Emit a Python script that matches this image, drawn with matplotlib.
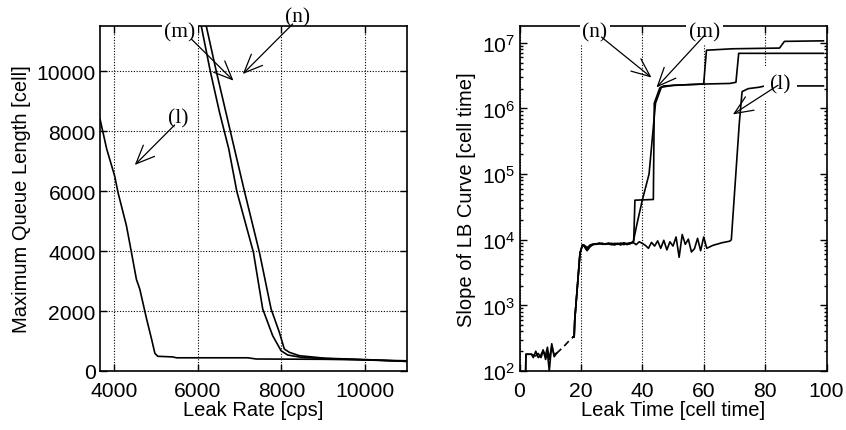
import matplotlib
matplotlib.use("Agg")
import matplotlib.pyplot as plt
import numpy as np

plt.rcParams['font.family'] = ['Liberation Sans', 'DejaVu Sans']
plt.rcParams['mathtext.fontset'] = 'custom'
plt.rcParams['mathtext.rm'] = 'Liberation Sans'

# ---------------- Left panel data: Maximum queue length vs leak rate ----------------
rate_l = [3670, 3830, 4020, 4100, 4300, 4420, 4540, 4620, 4780, 4900, 4980, 5050,
          5400, 5500, 7200, 7400, 9000, 10000, 11000]
qlen_l = [8400, 7400, 6500, 5950, 4850, 3960, 3050, 2730, 1750, 1070, 590, 490,
          470, 440, 440, 400, 390, 370, 340]

rate_m = [6088, 6302, 6524, 6745, 6936, 7333, 7555, 7793, 7993, 8150, 8500, 9000, 10000, 11000]
qlen_m = [11500, 10000, 8620, 7400, 5990, 3957, 2067, 1177, 677, 533, 450, 420, 370, 320]

rate_n = [6207, 6445, 6881, 7119, 7476, 7755, 7952, 8071, 8190, 8430, 9064, 9857, 10970]
qlen_n = [11500, 10000, 7400, 5990, 3957, 2067, 1290, 733, 623, 510, 423, 390, 323]

left_xticks = [4000, 6000, 8000, 10000]
left_yticks = [0, 2000, 4000, 6000, 8000, 10000]

# ---------------- Right panel data: slope of LB curve vs leak time ----------------
t_early = [2.0, 2.1, 3.9, 4.5, 5.3, 6.1, 7.0, 7.7, 8.5, 9.1, 9.7, 10.5, 11.3, 12.0]
slope_early_l = [100, 180, 180, 160, 200, 160, 175, 210, 150, 190, 100, 260, 165, 185]
slope_early_nm = [100, 180, 180, 175, 170, 185, 160, 200, 175, 230, 150, 240, 175, 185]

t_gap = [12.0, 14.2, 15.9, 17.5]
slope_gap = [185, 230, 280, 330]

t_rise = [17.5, 17.8, 18.0, 19.7, 20.5]
slope_rise = [330, 330, 600, 6200, 8300]

t_plateau = list(range(21, 37))
plateau_l = [8200, 7000, 8300, 8600, 8500, 8900, 8700, 8600, 8900, 8500, 8300, 8800, 8600, 9000, 8400, 8700]
plateau_n = [8000, 6800, 7800, 8500, 8700, 8600, 8800, 8500, 8700, 8800, 8600, 8500, 8900, 8400, 8800, 8700]
plateau_m = [8300, 7600, 8200, 8400, 8600, 8800, 8500, 8700, 8600, 8400, 8800, 8700, 8300, 8900, 8600, 9000]

t_l_tail = list(range(37, 62)) + [63, 66, 68.5, 69.0, 71.6, 72.5, 73.5, 74.5, 78, 80, 99]
slope_l_tail = [9100, 8400, 9300, 8800, 8200, 7400, 9100, 8000, 9600, 7400, 9800, 7000, 9300,
                8000, 11000, 5400, 12000, 8500, 10200, 6500, 7300, 10500, 6800, 11000, 7400,
                8200, 9000, 9500, 1.0e4, 6.0e5, 1.8e6, 1.9e6, 2.0e6, 2.1e6, 2.2e6, 2.2e6]

t_n_tail = [37.2, 37.6, 43.6, 43.9, 45.7, 47.0, 55, 59.5, 60.0, 60.9, 69.5, 84.7, 86.3, 99]
slope_n_tail = [9500, 4.0e4, 4.1e4, 1.2e6, 2.05e6, 2.2e6, 2.3e6, 2.35e6, 2.4e6, 7.7e6,
                8.1e6, 8.3e6, 1.05e7, 1.07e7]

t_m_tail = [37.0, 38.1, 40.0, 42.2, 44.3, 46.2, 50, 60, 68.5, 70.5, 71.4, 99]
slope_m_tail = [9000, 1.6e4, 4.0e4, 1.0e5, 1.2e6, 2.1e6, 2.25e6, 2.35e6, 2.4e6, 2.5e6, 6.9e6, 6.9e6]

right_xticks = [0, 20, 40, 60, 80, 100]

# ---------------- Figure ----------------
fig = plt.figure(figsize=(8.46, 4.31), dpi=100)
axL = fig.add_axes([100/846, 1-372/431, 307/846, 345/431])
axR = fig.add_axes([519.5/846, 1-372/431, 307/846, 345/431])

lw = 1.2
tick_fs = 15.2
label_fs = 14.5
ann_fs = 15.5
serif = ['Liberation Serif', 'DejaVu Serif']
bbox = dict(boxstyle='square,pad=0.12', fc='white', ec='none')
arrowprops = dict(arrowstyle='->,head_length=0.7,head_width=0.3', color='black', lw=0.9,
                  shrinkA=0, shrinkB=0, mutation_scale=19)

def style_axes(ax):
    for s in ax.spines.values():
        s.set_linewidth(1.2)
    ax.tick_params(which='both', direction='in', top=True, right=True,
                   labelsize=tick_fs, width=1.0)
    ax.tick_params(which='major', length=5)
    ax.tick_params(which='minor', length=2.5)

# Left
axL.plot(rate_l, qlen_l, color='black', lw=lw)
axL.plot(rate_m, qlen_m, color='black', lw=lw)
axL.plot(rate_n, qlen_n, color='black', lw=lw)
axL.set_xlim(3670, 11000)
axL.set_ylim(0, 11500)
axL.set_xticks(left_xticks)
axL.set_yticks(left_yticks)
axL.grid(True, linestyle=(0, (1, 1.5)), color='black', lw=0.8)
style_axes(axL)
axL.tick_params(axis='x', pad=7)
axL.tick_params(axis='y', pad=3)
axL.set_xlabel('Leak Rate [cps]', fontsize=label_fs, labelpad=0)
axL.set_ylabel('Maximum Queue Length [cell]', fontsize=label_fs, labelpad=4)

axL.text(5583, 11317, '(m)', family=serif, fontsize=ann_fs, ha='center', va='center',
         bbox=bbox, zorder=5)
axL.text(8381, 11817, '(n)', family=serif, fontsize=ann_fs, ha='center', va='center', zorder=5)
axL.text(5548, 8450, '(l)', family=serif, fontsize=ann_fs, ha='center', va='center', zorder=5)
axL.annotate('', xy=(6857, 9677), xytext=(5850, 11067), arrowprops=arrowprops,
             annotation_clip=False, zorder=6)
axL.annotate('', xy=(7079, 9900), xytext=(8270, 11567), arrowprops=arrowprops,
             annotation_clip=False, zorder=6)
axL.annotate('', xy=(4500, 6867), xytext=(5452, 8200), arrowprops=arrowprops,
             annotation_clip=False, zorder=6)

# Right
axR.set_yscale('log')
axR.plot(t_early, slope_early_l, color='black', lw=lw)
axR.plot(t_early, slope_early_nm, color='black', lw=lw)
axR.plot(t_gap, slope_gap, color='black', lw=lw, linestyle=(0, (4, 2.5)))
axR.plot(t_rise + t_plateau + t_l_tail, slope_rise + plateau_l + slope_l_tail, color='black', lw=lw)
axR.plot(t_rise + t_plateau + t_n_tail, slope_rise + plateau_n + slope_n_tail, color='black', lw=lw)
axR.plot(t_rise + t_plateau + t_m_tail, slope_rise + plateau_m + slope_m_tail, color='black', lw=lw)
axR.set_xlim(0, 100)
axR.set_ylim(100, 1.8e7)
axR.set_xticks(right_xticks)
axR.grid(True, axis='x', which='major', linestyle=(0, (1, 1.5)), color='black', lw=0.8)
style_axes(axR)
axR.tick_params(axis='x', pad=7)
axR.tick_params(axis='y', pad=3)
axR.set_xlabel('Leak Time [cell time]', fontsize=label_fs, labelpad=0)
axR.set_ylabel('Slope of LB Curve [cell time]', fontsize=label_fs, labelpad=4)

axR.text(24.6, 1.46e7, '(n)', family=serif, fontsize=ann_fs, ha='center', va='center',
         bbox=bbox, zorder=5)
axR.text(60.3, 1.46e7, '(m)', family=serif, fontsize=ann_fs, ha='center', va='center',
         bbox=bbox, zorder=5)
axR.text(85.0, 2.4e6, '(l)', family=serif, fontsize=ann_fs, ha='center', va='center',
         bbox=dict(boxstyle='square,pad=0.3', fc='white', ec='none'), zorder=5)
axR.annotate('', xy=(43.0, 2.95e6), xytext=(26.7, 1.22e7), arrowprops=arrowprops,
             annotation_clip=False, zorder=6)
axR.annotate('', xy=(44.6, 2.08e6), xytext=(60.3, 1.3e7), arrowprops=arrowprops,
             annotation_clip=False, zorder=6)
axR.annotate('', xy=(69.5, 8.1e5), xytext=(84.2, 2.25e6), arrowprops=arrowprops,
             annotation_clip=False, zorder=6)

fig.savefig('out.png', dpi=100)
